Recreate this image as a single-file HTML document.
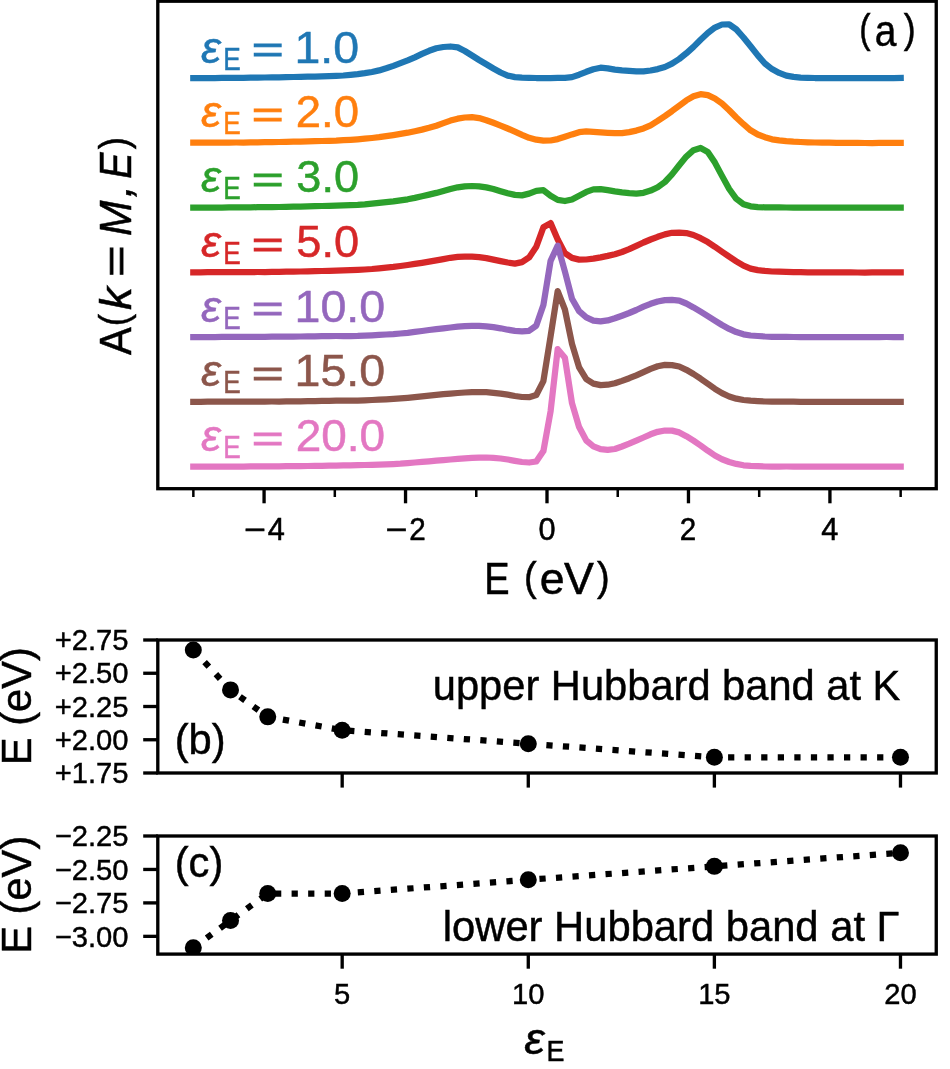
<!DOCTYPE html>
<html lang="en">
<head>
<meta charset="utf-8">
<title>Spectral function A(k=M,E) and Hubbard band positions versus dielectric constant</title>
<style>
html,body{margin:0;padding:0;background:#fff;}
body{width:950px;height:1069px;overflow:hidden;font-family:"Liberation Sans",sans-serif;}
figure{margin:0;padding:0;width:950px;height:1069px;}
svg{display:block;will-change:transform;}
svg text{font-family:"Liberation Sans",sans-serif;}
</style>
</head>
<body>
<figure>
<svg width="950" height="1069" viewBox="0 0 950 1069" font-family="Liberation Sans, sans-serif" role="img" aria-labelledby="figtitle figdesc">
<title id="figtitle">Spectral function A(k=M,E) for different dielectric constants and Hubbard band positions</title>
<desc id="figdesc">(a) Spectral function A(k=M,E) versus energy E (eV) for dielectric constants 1.0, 2.0, 3.0, 5.0, 10.0, 15.0 and 20.0, vertically offset. (b) Energy of the upper Hubbard band at K versus dielectric constant. (c) Energy of the lower Hubbard band at Gamma versus dielectric constant.</desc>
<rect width="950" height="1069" fill="#fff"/>
<g id="panel-a">
<clipPath id="clipA"><rect x="157.80" y="1.20" width="778.45" height="487.50"/></clipPath>
<g clip-path="url(#clipA)" fill="none" stroke-width="6.25" stroke-linejoin="round" stroke-linecap="square">
<path d="M193.3 78.0 L200.5 78.0 L207.6 78.0 L214.8 78.0 L221.9 77.9 L229.1 77.9 L236.2 77.8 L243.4 77.8 L250.5 77.7 L257.6 77.6 L264.8 77.5 L271.9 77.4 L279.1 77.3 L286.2 77.2 L293.4 77.0 L300.5 76.9 L307.7 76.7 L314.8 76.6 L321.9 76.4 L329.1 76.2 L336.2 75.9 L343.4 75.5 L350.5 74.8 L357.7 74.2 L364.8 73.2 L372.0 72.0 L379.1 70.4 L386.2 68.3 L393.4 65.9 L400.5 63.2 L407.7 60.4 L414.8 57.3 L422.0 53.9 L429.1 50.8 L436.3 48.3 L443.4 47.0 L450.5 46.5 L457.7 47.4 L464.8 51.0 L472.0 55.5 L479.1 60.0 L486.3 64.3 L493.4 68.5 L500.6 72.5 L507.7 75.6 L514.9 77.1 L522.0 77.6 L529.1 77.8 L536.3 78.0 L543.4 78.0 L550.6 78.0 L557.7 77.9 L564.9 77.8 L572.0 77.1 L579.1 74.7 L586.3 71.8 L593.4 69.2 L600.6 67.7 L607.7 68.3 L614.9 69.6 L622.0 70.4 L629.2 70.9 L636.3 71.4 L643.5 71.4 L650.6 70.5 L657.7 69.1 L664.9 67.0 L672.0 63.7 L679.2 59.0 L686.3 53.3 L693.5 46.9 L700.6 39.8 L707.8 33.0 L714.9 27.6 L722.0 24.5 L729.2 24.4 L736.3 29.4 L743.5 37.5 L750.6 46.2 L757.8 55.4 L764.9 63.5 L772.0 69.1 L779.2 72.9 L786.3 75.6 L793.5 76.9 L800.6 77.6 L807.8 77.8 L814.9 78.0 L822.1 78.0 L829.2 78.0 L836.4 78.1 L843.5 78.1 L850.6 78.1 L857.8 78.1 L864.9 78.1 L872.1 78.1 L879.2 78.1 L886.4 78.1 L893.5 78.1 L900.7 78.0" stroke="#1f77b4"/>
<path d="M193.3 142.7 L200.5 142.7 L207.6 142.7 L214.8 142.7 L221.9 142.6 L229.1 142.6 L236.2 142.5 L243.4 142.5 L250.5 142.4 L257.6 142.3 L264.8 142.2 L271.9 142.1 L279.1 142.0 L286.2 141.9 L293.4 141.7 L300.5 141.6 L307.7 141.4 L314.8 141.2 L321.9 141.0 L329.1 140.8 L336.2 140.6 L343.4 140.2 L350.5 139.8 L357.7 139.3 L364.8 138.7 L372.0 138.0 L379.1 137.2 L386.2 136.2 L393.4 135.1 L400.5 133.9 L407.7 132.7 L414.8 131.2 L422.0 129.6 L429.1 127.8 L436.3 125.7 L443.4 123.1 L450.5 120.6 L457.7 118.7 L464.8 117.5 L472.0 117.2 L479.1 118.1 L486.3 120.2 L493.4 122.8 L500.6 125.6 L507.7 128.5 L514.9 131.6 L522.0 134.8 L529.1 137.8 L536.3 139.7 L543.4 140.6 L550.6 140.5 L557.7 139.1 L564.9 136.8 L572.0 134.4 L579.1 132.2 L586.3 131.4 L593.4 131.9 L600.6 132.4 L607.7 132.8 L614.9 133.2 L622.0 133.1 L629.2 132.1 L636.3 130.6 L643.5 128.4 L650.6 125.3 L657.7 120.9 L664.9 116.1 L672.0 111.1 L679.2 105.7 L686.3 100.4 L693.5 96.3 L700.6 94.2 L707.8 95.1 L714.9 98.5 L722.0 103.5 L729.2 110.3 L736.3 117.5 L743.5 124.2 L750.6 130.3 L757.8 134.5 L764.9 137.2 L772.0 139.3 L779.2 140.4 L786.3 141.2 L793.5 141.7 L800.6 142.0 L807.8 142.3 L814.9 142.5 L822.1 142.6 L829.2 142.7 L836.4 142.8 L843.5 142.9 L850.6 142.9 L857.8 142.9 L864.9 143.0 L872.1 143.0 L879.2 142.9 L886.4 142.9 L893.5 142.8 L900.7 142.8" stroke="#ff7f0e"/>
<path d="M193.3 207.5 L200.5 207.5 L207.6 207.5 L214.8 207.5 L221.9 207.5 L229.1 207.4 L236.2 207.4 L243.4 207.3 L250.5 207.3 L257.6 207.2 L264.8 207.2 L271.9 207.1 L279.1 207.0 L286.2 206.9 L293.4 206.7 L300.5 206.6 L307.7 206.4 L314.8 206.2 L321.9 206.0 L329.1 205.8 L336.2 205.6 L343.4 205.4 L350.5 205.2 L357.7 204.9 L364.8 204.4 L372.0 203.7 L379.1 202.9 L386.2 202.2 L393.4 201.4 L400.5 200.4 L407.7 199.3 L414.8 197.9 L422.0 196.3 L429.1 194.6 L436.3 192.9 L443.4 191.0 L450.5 189.0 L457.7 187.3 L464.8 186.3 L472.0 186.0 L479.1 186.4 L486.3 187.4 L493.4 189.0 L500.6 191.2 L507.7 193.2 L514.9 194.9 L522.0 195.4 L529.1 193.6 L536.3 190.8 L543.4 190.2 L550.6 195.8 L557.7 199.9 L564.9 201.0 L572.0 199.5 L579.1 195.8 L586.3 191.9 L593.4 189.4 L600.6 189.1 L607.7 190.2 L614.9 191.4 L622.0 192.4 L629.2 193.2 L636.3 193.7 L643.5 192.8 L650.6 190.6 L657.7 187.2 L664.9 182.0 L672.0 174.4 L679.2 165.3 L686.3 156.6 L693.5 150.2 L700.6 148.0 L707.8 151.9 L714.9 162.6 L722.0 175.9 L729.2 189.0 L736.3 198.8 L743.5 204.2 L750.6 206.3 L757.8 207.1 L764.9 207.3 L772.0 207.4 L779.2 207.4 L786.3 207.5 L793.5 207.5 L800.6 207.5 L807.8 207.5 L814.9 207.5 L822.1 207.5 L829.2 207.5 L836.4 207.5 L843.5 207.5 L850.6 207.5 L857.8 207.5 L864.9 207.5 L872.1 207.5 L879.2 207.5 L886.4 207.5 L893.5 207.5 L900.7 207.5" stroke="#2ca02c"/>
<path d="M193.3 272.3 L200.5 272.3 L207.6 272.2 L214.8 272.2 L221.9 272.2 L229.1 272.2 L236.2 272.2 L243.4 272.1 L250.5 272.1 L257.6 272.0 L264.8 272.0 L271.9 271.9 L279.1 271.8 L286.2 271.7 L293.4 271.6 L300.5 271.5 L307.7 271.3 L314.8 271.2 L321.9 271.0 L329.1 270.8 L336.2 270.6 L343.4 270.4 L350.5 270.2 L357.7 269.9 L364.8 269.5 L372.0 269.0 L379.1 268.3 L386.2 267.6 L393.4 266.9 L400.5 266.0 L407.7 265.0 L414.8 263.9 L422.0 262.8 L429.1 261.6 L436.3 260.4 L443.4 259.1 L450.5 257.8 L457.7 256.9 L464.8 256.6 L472.0 256.7 L479.1 257.1 L486.3 258.1 L493.4 259.6 L500.6 261.1 L507.7 262.5 L514.9 263.6 L522.0 262.1 L529.1 257.4 L536.3 246.8 L543.4 227.3 L550.6 223.1 L557.7 239.5 L564.9 253.1 L572.0 257.9 L579.1 259.6 L586.3 259.5 L593.4 258.7 L600.6 257.4 L607.7 255.9 L614.9 254.2 L622.0 252.0 L629.2 249.2 L636.3 245.9 L643.5 242.5 L650.6 239.5 L657.7 236.8 L664.9 234.4 L672.0 232.8 L679.2 232.6 L686.3 233.1 L693.5 235.0 L700.6 238.2 L707.8 242.1 L714.9 246.8 L722.0 251.8 L729.2 256.7 L736.3 261.3 L743.5 265.7 L750.6 268.6 L757.8 270.1 L764.9 270.9 L772.0 271.5 L779.2 271.7 L786.3 271.9 L793.5 272.1 L800.6 272.2 L807.8 272.3 L814.9 272.3 L822.1 272.3 L829.2 272.4 L836.4 272.4 L843.5 272.4 L850.6 272.4 L857.8 272.5 L864.9 272.5 L872.1 272.4 L879.2 272.4 L886.4 272.4 L893.5 272.3 L900.7 272.3" stroke="#d62728"/>
<path d="M193.3 337.0 L200.5 337.0 L207.6 337.0 L214.8 337.0 L221.9 336.9 L229.1 336.9 L236.2 336.9 L243.4 336.9 L250.5 336.8 L257.6 336.8 L264.8 336.8 L271.9 336.7 L279.1 336.7 L286.2 336.6 L293.4 336.6 L300.5 336.5 L307.7 336.4 L314.8 336.3 L321.9 336.2 L329.1 336.1 L336.2 336.0 L343.4 336.0 L350.5 336.0 L357.7 335.9 L364.8 335.6 L372.0 335.3 L379.1 334.9 L386.2 334.5 L393.4 334.1 L400.5 333.5 L407.7 332.8 L414.8 331.9 L422.0 331.0 L429.1 330.0 L436.3 329.2 L443.4 328.3 L450.5 327.5 L457.7 326.6 L464.8 326.1 L472.0 325.8 L479.1 325.9 L486.3 326.4 L493.4 327.2 L500.6 328.3 L507.7 329.7 L514.9 330.9 L522.0 331.3 L529.1 330.8 L536.3 325.6 L543.4 304.9 L550.6 260.8 L557.7 245.7 L564.9 271.5 L572.0 298.8 L579.1 311.1 L586.3 317.4 L593.4 320.6 L600.6 321.4 L607.7 320.4 L614.9 318.2 L622.0 315.7 L629.2 313.0 L636.3 310.0 L643.5 306.7 L650.6 303.8 L657.7 301.5 L664.9 300.1 L672.0 299.9 L679.2 300.6 L686.3 303.5 L693.5 307.4 L700.6 311.7 L707.8 316.1 L714.9 320.6 L722.0 325.0 L729.2 328.9 L736.3 332.1 L743.5 334.3 L750.6 335.5 L757.8 336.0 L764.9 336.5 L772.0 336.8 L779.2 336.8 L786.3 336.9 L793.5 337.0 L800.6 337.0 L807.8 337.0 L814.9 337.0 L822.1 337.0 L829.2 337.0 L836.4 337.1 L843.5 337.1 L850.6 337.1 L857.8 337.1 L864.9 337.1 L872.1 337.1 L879.2 337.1 L886.4 337.0 L893.5 337.0 L900.7 337.0" stroke="#9467bd"/>
<path d="M193.3 401.8 L200.5 401.8 L207.6 401.7 L214.8 401.7 L221.9 401.7 L229.1 401.7 L236.2 401.7 L243.4 401.7 L250.5 401.6 L257.6 401.6 L264.8 401.6 L271.9 401.5 L279.1 401.5 L286.2 401.4 L293.4 401.4 L300.5 401.3 L307.7 401.2 L314.8 401.1 L321.9 400.9 L329.1 400.8 L336.2 400.7 L343.4 400.7 L350.5 400.7 L357.7 400.6 L364.8 400.3 L372.0 400.0 L379.1 399.7 L386.2 399.3 L393.4 398.9 L400.5 398.4 L407.7 397.8 L414.8 397.1 L422.0 396.3 L429.1 395.6 L436.3 394.9 L443.4 394.2 L450.5 393.6 L457.7 393.0 L464.8 392.5 L472.0 392.1 L479.1 392.0 L486.3 392.2 L493.4 392.8 L500.6 393.6 L507.7 394.7 L514.9 396.0 L522.0 397.0 L529.1 397.2 L536.3 395.0 L543.4 381.1 L550.6 336.3 L557.7 291.1 L564.9 309.5 L572.0 343.8 L579.1 367.4 L586.3 379.2 L593.4 383.6 L600.6 385.1 L607.7 384.7 L614.9 383.3 L622.0 380.9 L629.2 378.2 L636.3 375.3 L643.5 372.1 L650.6 368.9 L657.7 366.3 L664.9 364.9 L672.0 365.1 L679.2 366.5 L686.3 369.8 L693.5 374.0 L700.6 378.7 L707.8 383.8 L714.9 388.8 L722.0 393.1 L729.2 396.5 L736.3 398.7 L743.5 400.0 L750.6 400.7 L757.8 401.1 L764.9 401.5 L772.0 401.7 L779.2 401.7 L786.3 401.7 L793.5 401.7 L800.6 401.8 L807.8 401.8 L814.9 401.8 L822.1 401.8 L829.2 401.8 L836.4 401.8 L843.5 401.8 L850.6 401.8 L857.8 401.8 L864.9 401.8 L872.1 401.8 L879.2 401.8 L886.4 401.8 L893.5 401.8 L900.7 401.8" stroke="#8c564b"/>
<path d="M193.3 466.5 L200.5 466.5 L207.6 466.5 L214.8 466.5 L221.9 466.5 L229.1 466.5 L236.2 466.5 L243.4 466.5 L250.5 466.4 L257.6 466.4 L264.8 466.4 L271.9 466.3 L279.1 466.3 L286.2 466.2 L293.4 466.2 L300.5 466.1 L307.7 466.0 L314.8 465.9 L321.9 465.8 L329.1 465.7 L336.2 465.6 L343.4 465.4 L350.5 465.3 L357.7 465.2 L364.8 465.0 L372.0 464.8 L379.1 464.6 L386.2 464.4 L393.4 464.1 L400.5 463.7 L407.7 463.1 L414.8 462.5 L422.0 461.9 L429.1 461.3 L436.3 460.7 L443.4 460.1 L450.5 459.5 L457.7 458.9 L464.8 458.4 L472.0 457.9 L479.1 457.6 L486.3 457.5 L493.4 457.8 L500.6 458.5 L507.7 459.5 L514.9 460.8 L522.0 462.0 L529.1 462.5 L536.3 461.5 L543.4 451.1 L550.6 411.2 L557.7 349.2 L564.9 357.8 L572.0 403.2 L579.1 427.1 L586.3 440.5 L593.4 446.3 L600.6 449.2 L607.7 449.9 L614.9 449.0 L622.0 446.5 L629.2 443.7 L636.3 440.7 L643.5 437.5 L650.6 434.3 L657.7 431.8 L664.9 430.5 L672.0 430.6 L679.2 432.4 L686.3 436.2 L693.5 440.7 L700.6 445.5 L707.8 450.7 L714.9 455.5 L722.0 459.3 L729.2 462.0 L736.3 463.9 L743.5 465.3 L750.6 465.9 L757.8 466.2 L764.9 466.5 L772.0 466.6 L779.2 466.6 L786.3 466.5 L793.5 466.5 L800.6 466.5 L807.8 466.5 L814.9 466.5 L822.1 466.5 L829.2 466.5 L836.4 466.5 L843.5 466.5 L850.6 466.5 L857.8 466.5 L864.9 466.5 L872.1 466.5 L879.2 466.5 L886.4 466.5 L893.5 466.5 L900.7 466.5" stroke="#e377c2"/>
</g>
<text fill="#1f77b4" stroke="#1f77b4" stroke-width="0.50"><tspan x="200.95" y="62.70" font-size="43.60" textLength="19.92" lengthAdjust="spacingAndGlyphs" font-style="italic">ε</tspan><tspan x="223.25" y="69.60" font-size="30.60" textLength="17.47" lengthAdjust="spacingAndGlyphs">E</tspan><tspan x="240.00" y="62.70" font-size="43.60"> </tspan><tspan x="251.73" y="62.40" font-size="37.00" textLength="31.97" lengthAdjust="spacingAndGlyphs" stroke-width="0.90">=</tspan><tspan x="284.00" y="62.70" font-size="43.60"> </tspan><tspan x="294.56" y="62.70" font-size="43.60" textLength="64.55" lengthAdjust="spacingAndGlyphs">1.0</tspan></text>
<text fill="#ff7f0e" stroke="#ff7f0e" stroke-width="0.50"><tspan x="200.95" y="127.45" font-size="43.60" textLength="19.92" lengthAdjust="spacingAndGlyphs" font-style="italic">ε</tspan><tspan x="223.25" y="134.35" font-size="30.60" textLength="17.47" lengthAdjust="spacingAndGlyphs">E</tspan><tspan x="240.00" y="127.45" font-size="43.60"> </tspan><tspan x="251.73" y="127.15" font-size="37.00" textLength="31.97" lengthAdjust="spacingAndGlyphs" stroke-width="0.90">=</tspan><tspan x="284.00" y="127.45" font-size="43.60"> </tspan><tspan x="295.81" y="127.45" font-size="43.60" textLength="63.27" lengthAdjust="spacingAndGlyphs">2.0</tspan></text>
<text fill="#2ca02c" stroke="#2ca02c" stroke-width="0.50"><tspan x="200.95" y="192.20" font-size="43.60" textLength="19.92" lengthAdjust="spacingAndGlyphs" font-style="italic">ε</tspan><tspan x="223.25" y="199.10" font-size="30.60" textLength="17.47" lengthAdjust="spacingAndGlyphs">E</tspan><tspan x="240.00" y="192.20" font-size="43.60"> </tspan><tspan x="251.73" y="191.90" font-size="37.00" textLength="31.97" lengthAdjust="spacingAndGlyphs" stroke-width="0.90">=</tspan><tspan x="284.00" y="192.20" font-size="43.60"> </tspan><tspan x="296.38" y="192.20" font-size="43.60" textLength="62.68" lengthAdjust="spacingAndGlyphs">3.0</tspan></text>
<text fill="#d62728" stroke="#d62728" stroke-width="0.50"><tspan x="200.95" y="256.95" font-size="43.60" textLength="19.92" lengthAdjust="spacingAndGlyphs" font-style="italic">ε</tspan><tspan x="223.25" y="263.85" font-size="30.60" textLength="17.47" lengthAdjust="spacingAndGlyphs">E</tspan><tspan x="240.00" y="256.95" font-size="43.60"> </tspan><tspan x="251.73" y="256.65" font-size="37.00" textLength="31.97" lengthAdjust="spacingAndGlyphs" stroke-width="0.90">=</tspan><tspan x="284.00" y="256.95" font-size="43.60"> </tspan><tspan x="296.29" y="256.95" font-size="43.60" textLength="62.77" lengthAdjust="spacingAndGlyphs">5.0</tspan></text>
<text fill="#9467bd" stroke="#9467bd" stroke-width="0.50"><tspan x="200.95" y="321.70" font-size="43.60" textLength="19.92" lengthAdjust="spacingAndGlyphs" font-style="italic">ε</tspan><tspan x="223.25" y="328.60" font-size="30.60" textLength="17.47" lengthAdjust="spacingAndGlyphs">E</tspan><tspan x="240.00" y="321.70" font-size="43.60"> </tspan><tspan x="251.73" y="321.40" font-size="37.00" textLength="31.97" lengthAdjust="spacingAndGlyphs" stroke-width="0.90">=</tspan><tspan x="284.00" y="321.70" font-size="43.60"> </tspan><tspan x="294.55" y="321.70" font-size="43.60" textLength="90.67" lengthAdjust="spacingAndGlyphs">10.0</tspan></text>
<text fill="#8c564b" stroke="#8c564b" stroke-width="0.50"><tspan x="200.95" y="386.45" font-size="43.60" textLength="19.92" lengthAdjust="spacingAndGlyphs" font-style="italic">ε</tspan><tspan x="223.25" y="393.35" font-size="30.60" textLength="17.47" lengthAdjust="spacingAndGlyphs">E</tspan><tspan x="240.00" y="386.45" font-size="43.60"> </tspan><tspan x="251.73" y="386.15" font-size="37.00" textLength="31.97" lengthAdjust="spacingAndGlyphs" stroke-width="0.90">=</tspan><tspan x="284.00" y="386.45" font-size="43.60"> </tspan><tspan x="294.55" y="386.45" font-size="43.60" textLength="90.67" lengthAdjust="spacingAndGlyphs">15.0</tspan></text>
<text fill="#e377c2" stroke="#e377c2" stroke-width="0.50"><tspan x="200.95" y="451.20" font-size="43.60" textLength="19.92" lengthAdjust="spacingAndGlyphs" font-style="italic">ε</tspan><tspan x="223.25" y="458.10" font-size="30.60" textLength="17.47" lengthAdjust="spacingAndGlyphs">E</tspan><tspan x="240.00" y="451.20" font-size="43.60"> </tspan><tspan x="251.73" y="450.90" font-size="37.00" textLength="31.97" lengthAdjust="spacingAndGlyphs" stroke-width="0.90">=</tspan><tspan x="284.00" y="451.20" font-size="43.60"> </tspan><tspan x="295.79" y="451.20" font-size="43.60" textLength="89.40" lengthAdjust="spacingAndGlyphs">20.0</tspan></text>
<rect x="157.80" y="1.20" width="778.45" height="487.50" fill="none" stroke="#000" stroke-width="3.33"/>
<g stroke="#000">
<line x1="264.08" y1="488.70" x2="264.08" y2="503.30" stroke-width="3.33"/>
<line x1="405.54" y1="488.70" x2="405.54" y2="503.30" stroke-width="3.33"/>
<line x1="547.00" y1="488.70" x2="547.00" y2="503.30" stroke-width="3.33"/>
<line x1="688.46" y1="488.70" x2="688.46" y2="503.30" stroke-width="3.33"/>
<line x1="829.92" y1="488.70" x2="829.92" y2="503.30" stroke-width="3.33"/>
<line x1="193.35" y1="488.70" x2="193.35" y2="497.03" stroke-width="2.5"/>
<line x1="334.81" y1="488.70" x2="334.81" y2="497.03" stroke-width="2.5"/>
<line x1="476.27" y1="488.70" x2="476.27" y2="497.03" stroke-width="2.5"/>
<line x1="617.73" y1="488.70" x2="617.73" y2="497.03" stroke-width="2.5"/>
<line x1="759.19" y1="488.70" x2="759.19" y2="497.03" stroke-width="2.5"/>
<line x1="900.65" y1="488.70" x2="900.65" y2="497.03" stroke-width="2.5"/>
</g>
<text fill="#000" stroke="#000" stroke-width="0.50"><tspan x="243.82" y="539.60" font-size="30.90" textLength="21.95" lengthAdjust="spacingAndGlyphs">−</tspan><tspan x="267.74" y="539.60" font-size="30.90" textLength="17.10" lengthAdjust="spacingAndGlyphs">4</tspan></text>
<text fill="#000" stroke="#000" stroke-width="0.50"><tspan x="385.28" y="539.60" font-size="30.90" textLength="21.95" lengthAdjust="spacingAndGlyphs">−</tspan><tspan x="409.13" y="539.60" font-size="30.90" textLength="16.48" lengthAdjust="spacingAndGlyphs">2</tspan></text>
<text fill="#000" stroke="#000" stroke-width="0.50"><tspan x="538.44" y="539.60" font-size="30.90" textLength="17.10" lengthAdjust="spacingAndGlyphs">0</tspan></text>
<text fill="#000" stroke="#000" stroke-width="0.50"><tspan x="679.83" y="539.60" font-size="30.90" textLength="16.48" lengthAdjust="spacingAndGlyphs">2</tspan></text>
<text fill="#000" stroke="#000" stroke-width="0.50"><tspan x="821.36" y="539.60" font-size="30.90" textLength="17.10" lengthAdjust="spacingAndGlyphs">4</tspan></text>
<text fill="#000" stroke="#000" stroke-width="0.50"><tspan x="484.18" y="594.00" font-size="44.20" textLength="25.35" lengthAdjust="spacingAndGlyphs">E</tspan><tspan x="510.00" y="594.00" font-size="44.20"> </tspan><tspan x="524.04" y="591.10" font-size="40.10" textLength="12.69" lengthAdjust="spacingAndGlyphs">(</tspan><tspan x="539.70" y="594.00" font-size="44.20" textLength="24.89" lengthAdjust="spacingAndGlyphs">e</tspan><tspan x="564.10" y="594.00" font-size="44.20" textLength="29.89" lengthAdjust="spacingAndGlyphs">V</tspan><tspan x="596.98" y="591.10" font-size="40.10" textLength="12.69" lengthAdjust="spacingAndGlyphs">)</tspan></text>
<text fill="#000" stroke="#000" stroke-width="0.50"><tspan x="859.20" y="43.30" font-size="40.10" textLength="11.30" lengthAdjust="spacingAndGlyphs">(</tspan><tspan x="874.65" y="46.00" font-size="44.20" textLength="21.65" lengthAdjust="spacingAndGlyphs">a</tspan><tspan x="903.69" y="43.30" font-size="40.10" textLength="11.93" lengthAdjust="spacingAndGlyphs">)</tspan></text>
<g transform="translate(131,247) rotate(-90)">
<text fill="#000" stroke="#000" stroke-width="0.50"><tspan x="-108.03" y="0.00" font-size="44.20" textLength="27.76" lengthAdjust="spacingAndGlyphs">A</tspan><tspan x="-79.24" y="-3.00" font-size="40.10" textLength="12.31" lengthAdjust="spacingAndGlyphs">(</tspan><tspan x="-63.11" y="0.00" font-size="44.20" textLength="22.94" lengthAdjust="spacingAndGlyphs" font-style="italic">k</tspan><tspan x="-35.15" y="0.00" font-size="44.20"> </tspan><tspan x="-29.76" y="-0.80" font-size="38.00" textLength="31.25" lengthAdjust="spacingAndGlyphs" stroke-width="0.90">=</tspan><tspan x="1.85" y="0.00" font-size="44.20"> </tspan><tspan x="10.94" y="0.00" font-size="44.20" textLength="35.41" lengthAdjust="spacingAndGlyphs" font-style="italic">M</tspan><tspan x="49.44" y="0.00" font-size="44.20" textLength="12.39" lengthAdjust="spacingAndGlyphs" font-style="italic">,</tspan><tspan x="58.85" y="0.00" font-size="44.20"> </tspan><tspan x="68.23" y="0.00" font-size="44.20" textLength="26.35" lengthAdjust="spacingAndGlyphs" font-style="italic">E</tspan><tspan x="97.84" y="-3.00" font-size="40.10" textLength="12.18" lengthAdjust="spacingAndGlyphs">)</tspan></text>
</g>
</g>
<g id="panel-b">
<clipPath id="clipb"><rect x="157.80" y="640.00" width="778.45" height="133.00"/></clipPath>
<g clip-path="url(#clipb)">
<polyline points="193.30,649.98 230.52,689.88 267.74,716.87 342.18,730.17 528.28,743.74 714.38,757.31 900.48,757.31" fill="none" stroke="#000" stroke-width="6.25" stroke-dasharray="6.25 10.31" stroke-linejoin="round"/>
<circle cx="193.30" cy="649.98" r="8.5" fill="#000"/>
<circle cx="230.52" cy="689.88" r="8.5" fill="#000"/>
<circle cx="267.74" cy="716.87" r="8.5" fill="#000"/>
<circle cx="342.18" cy="730.17" r="8.5" fill="#000"/>
<circle cx="528.28" cy="743.74" r="8.5" fill="#000"/>
<circle cx="714.38" cy="757.31" r="8.5" fill="#000"/>
<circle cx="900.48" cy="757.31" r="8.5" fill="#000"/>
</g>
<rect x="157.80" y="640.00" width="778.45" height="133.00" fill="none" stroke="#000" stroke-width="3.33"/>
<g stroke="#000" stroke-width="3.33">
<line x1="342.18" y1="773.00" x2="342.18" y2="787.60"/>
<line x1="528.28" y1="773.00" x2="528.28" y2="787.60"/>
<line x1="714.38" y1="773.00" x2="714.38" y2="787.60"/>
<line x1="900.48" y1="773.00" x2="900.48" y2="787.60"/>
<line x1="143.20" y1="640.00" x2="157.80" y2="640.00"/>
<line x1="143.20" y1="673.25" x2="157.80" y2="673.25"/>
<line x1="143.20" y1="706.50" x2="157.80" y2="706.50"/>
<line x1="143.20" y1="739.75" x2="157.80" y2="739.75"/>
<line x1="143.20" y1="773.00" x2="157.80" y2="773.00"/>
</g>
<g font-size="29.17" text-anchor="end" stroke="#000" stroke-width="0.45">
<text x="128.5" y="650.20">+2.75</text>
<text x="128.5" y="683.45">+2.50</text>
<text x="128.5" y="716.70">+2.25</text>
<text x="128.5" y="749.95">+2.00</text>
<text x="128.5" y="783.20">+1.75</text>
</g>
<text transform="translate(30.7,706.20) rotate(-90)" font-size="41.67" text-anchor="middle" stroke="#000" stroke-width="0.45">E (eV)</text>
<text x="174.7" y="754.00" font-size="41.67" stroke="#000" stroke-width="0.45">(b)</text>
<text x="432.80" y="699.60" font-size="41.67" textLength="467.57" lengthAdjust="spacingAndGlyphs" fill="#000" stroke="#000" stroke-width="0.45">upper Hubbard band at K</text>
</g>
<g id="panel-c">
<clipPath id="clipc"><rect x="157.80" y="836.00" width="778.45" height="118.10"/></clipPath>
<g clip-path="url(#clipc)">
<polyline points="193.30,947.72 230.52,920.56 267.74,893.53 342.18,893.53 528.28,879.75 714.38,866.37 900.48,852.86" fill="none" stroke="#000" stroke-width="6.25" stroke-dasharray="6.25 10.31" stroke-linejoin="round"/>
<circle cx="193.30" cy="947.72" r="8.5" fill="#000"/>
<circle cx="230.52" cy="920.56" r="8.5" fill="#000"/>
<circle cx="267.74" cy="893.53" r="8.5" fill="#000"/>
<circle cx="342.18" cy="893.53" r="8.5" fill="#000"/>
<circle cx="528.28" cy="879.75" r="8.5" fill="#000"/>
<circle cx="714.38" cy="866.37" r="8.5" fill="#000"/>
<circle cx="900.48" cy="852.86" r="8.5" fill="#000"/>
</g>
<rect x="157.80" y="836.00" width="778.45" height="118.10" fill="none" stroke="#000" stroke-width="3.33"/>
<g stroke="#000" stroke-width="3.33">
<line x1="342.18" y1="954.10" x2="342.18" y2="968.70"/>
<line x1="528.28" y1="954.10" x2="528.28" y2="968.70"/>
<line x1="714.38" y1="954.10" x2="714.38" y2="968.70"/>
<line x1="900.48" y1="954.10" x2="900.48" y2="968.70"/>
<line x1="143.20" y1="836.00" x2="157.80" y2="836.00"/>
<line x1="143.20" y1="869.45" x2="157.80" y2="869.45"/>
<line x1="143.20" y1="902.90" x2="157.80" y2="902.90"/>
<line x1="143.20" y1="936.35" x2="157.80" y2="936.35"/>
</g>
<g font-size="29.17" text-anchor="end" stroke="#000" stroke-width="0.45">
<text x="128.5" y="846.20">−2.25</text>
<text x="128.5" y="879.65">−2.50</text>
<text x="128.5" y="913.10">−2.75</text>
<text x="128.5" y="946.55">−3.00</text>
</g>
<text transform="translate(30.7,894.75) rotate(-90)" font-size="41.67" text-anchor="middle" stroke="#000" stroke-width="0.45">E (eV)</text>
<text x="174.7" y="876.50" font-size="41.67" stroke="#000" stroke-width="0.45">(c)</text>
<text x="442.79" y="940.70" font-size="41.67" textLength="456.77" lengthAdjust="spacingAndGlyphs" fill="#000" stroke="#000" stroke-width="0.45">lower Hubbard band at Γ</text>
</g>
<g font-size="29.17" text-anchor="middle" stroke="#000" stroke-width="0.45">
<text x="342.18" y="1004.0">5</text>
<text x="528.28" y="1004.0">10</text>
<text x="714.38" y="1004.0">15</text>
<text x="900.48" y="1004.0">20</text>
</g>
<text fill="#000" stroke="#000" stroke-width="0.50"><tspan x="524.33" y="1054.40" font-size="43.60" textLength="20.43" lengthAdjust="spacingAndGlyphs" font-style="italic">ε</tspan><tspan x="546.49" y="1061.00" font-size="29.17" textLength="17.97" lengthAdjust="spacingAndGlyphs" stroke-width="0.45">E</tspan></text>
</svg>
</figure>
</body>
</html>
